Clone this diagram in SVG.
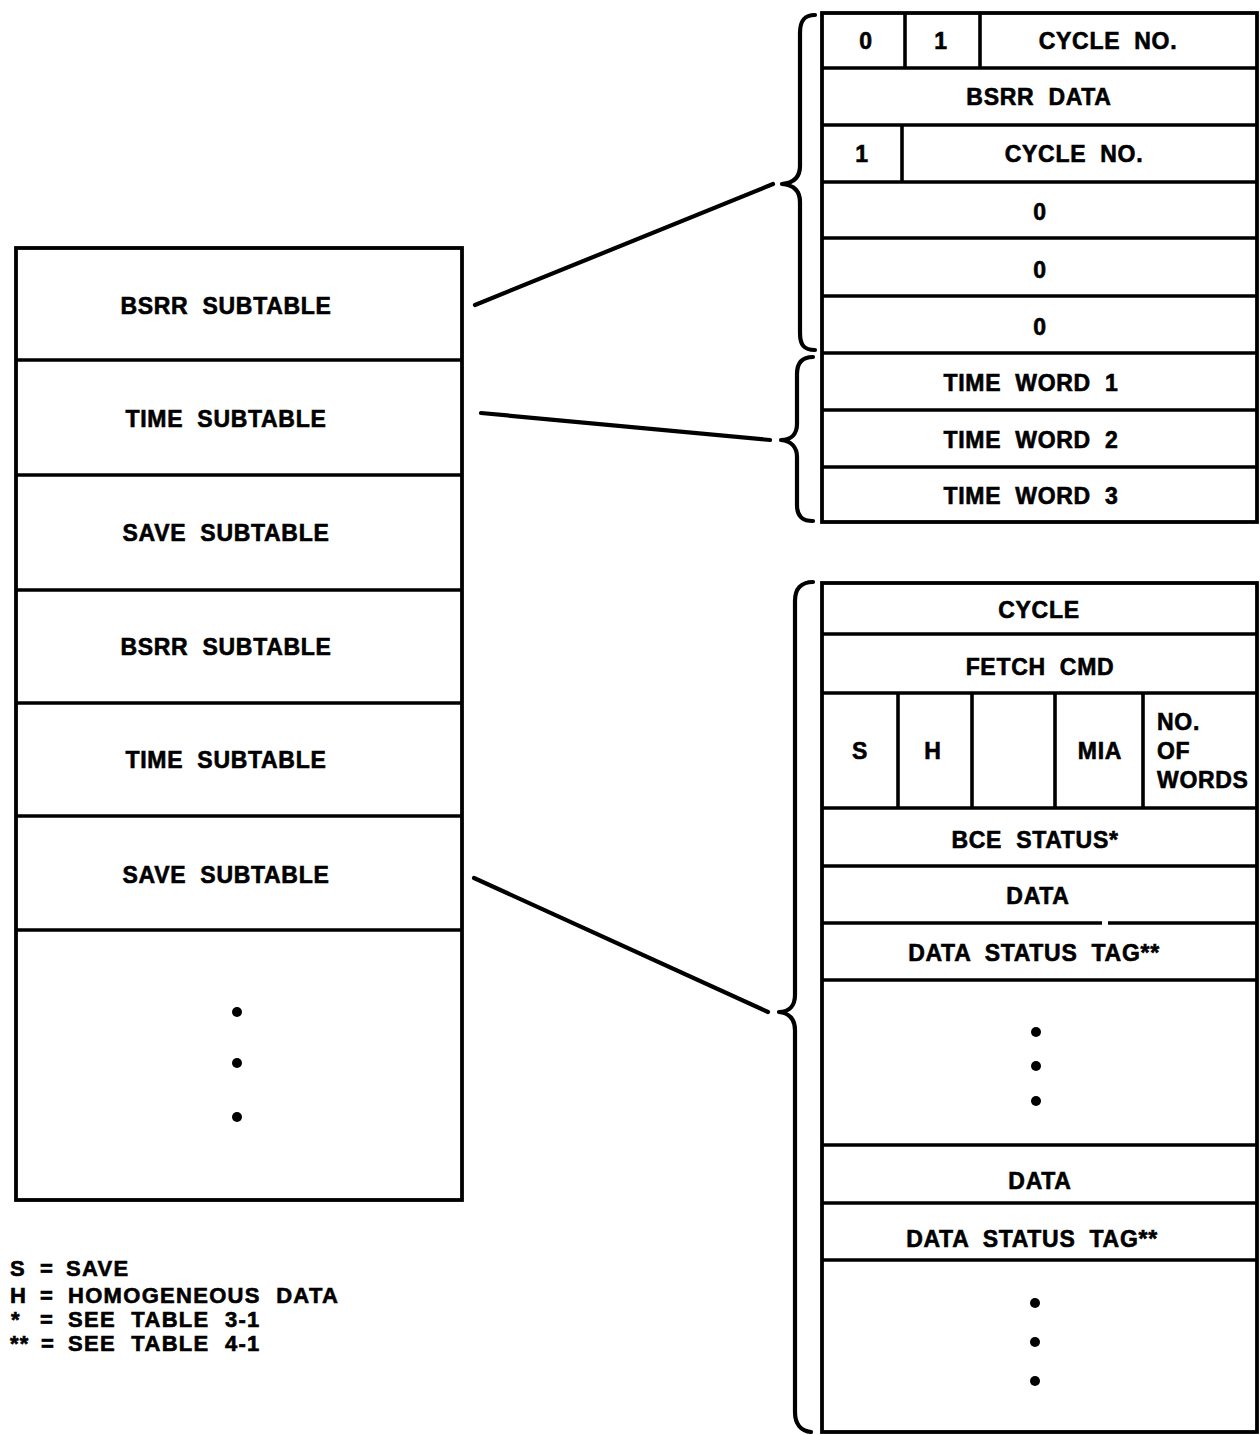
<svg xmlns="http://www.w3.org/2000/svg" width="1260" height="1435" viewBox="0 0 1260 1435">
<style>
  .bg { fill: #ffffff; }
  .box { fill: none; stroke: #000; stroke-width: 3.8; stroke-linejoin: miter; }
  .ln { stroke: #000; stroke-width: 3.6; fill: none; }
  .conn { stroke: #000; stroke-width: 4.2; stroke-linecap: round; fill: none; }
  .brace { stroke: #000; stroke-width: 4.2; stroke-linecap: round; stroke-linejoin: round; fill: none; }
  .t { font-family: "Liberation Sans", Arial, Helvetica, sans-serif; font-weight: bold; font-size: 23px; letter-spacing: 0.7px; word-spacing: 7px; fill: #000; stroke: #000; stroke-width: 0.6px; text-anchor: middle; }
  .tl { text-anchor: start; }
  .lg { font-family: "Liberation Sans", Arial, Helvetica, sans-serif; font-weight: bold; font-size: 22px; letter-spacing: 1.3px; word-spacing: 8px; fill: #000; stroke: #000; stroke-width: 0.6px; }
  .dot { fill: #000; }
</style>
<rect class="bg" x="0" y="0" width="1260" height="1435"/>

<g id="main-table">
  <rect class="box" x="16" y="248" width="446" height="952"/>
  <line class="ln" x1="16" y1="360" x2="462" y2="360"/>
  <line class="ln" x1="16" y1="475" x2="462" y2="475"/>
  <line class="ln" x1="16" y1="590" x2="462" y2="590"/>
  <line class="ln" x1="16" y1="703" x2="462" y2="703"/>
  <line class="ln" x1="16" y1="816" x2="462" y2="816"/>
  <line class="ln" x1="16" y1="930" x2="462" y2="930"/>
  <g id="row-bsrr-1"><text class="t" x="226" y="314">BSRR SUBTABLE</text></g>
  <g id="row-time-1"><text class="t" x="226" y="427">TIME SUBTABLE</text></g>
  <g id="row-save-1"><text class="t" x="226" y="541">SAVE SUBTABLE</text></g>
  <g id="row-bsrr-2"><text class="t" x="226" y="655">BSRR SUBTABLE</text></g>
  <g id="row-time-2"><text class="t" x="226" y="768">TIME SUBTABLE</text></g>
  <g id="row-save-2"><text class="t" x="226" y="883">SAVE SUBTABLE</text></g>
  <g id="row-more">
    <circle class="dot" cx="237" cy="1012" r="5"/>
    <circle class="dot" cx="237" cy="1063" r="5"/>
    <circle class="dot" cx="237" cy="1117" r="5"/>
  </g>
</g>

<g id="bsrr-time-detail">
  <rect class="box" x="822" y="13" width="435" height="509"/>
  <line class="ln" x1="822" y1="68" x2="1257" y2="68"/>
  <line class="ln" x1="822" y1="125" x2="1257" y2="125"/>
  <line class="ln" x1="822" y1="182" x2="1257" y2="182"/>
  <line class="ln" x1="822" y1="238" x2="1257" y2="238"/>
  <line class="ln" x1="822" y1="296" x2="1257" y2="296"/>
  <line class="ln" x1="822" y1="353" x2="1257" y2="353"/>
  <line class="ln" x1="822" y1="410" x2="1257" y2="410"/>
  <line class="ln" x1="822" y1="467" x2="1257" y2="467"/>
  <line class="ln" x1="905" y1="13" x2="905" y2="68"/>
  <line class="ln" x1="980" y1="13" x2="980" y2="68"/>
  <line class="ln" x1="902" y1="125" x2="902" y2="182"/>
  <text class="t" x="866" y="49">0</text>
  <text class="t" x="941" y="49">1</text>
  <text class="t" x="1108" y="49">CYCLE NO.</text>
  <text class="t" x="1039" y="105">BSRR DATA</text>
  <text class="t" x="862" y="162">1</text>
  <text class="t" x="1074" y="162">CYCLE NO.</text>
  <text class="t" x="1040" y="220">0</text>
  <text class="t" x="1040" y="278">0</text>
  <text class="t" x="1040" y="335">0</text>
  <text class="t" x="1031" y="391">TIME WORD 1</text>
  <text class="t" x="1031" y="448">TIME WORD 2</text>
  <text class="t" x="1031" y="504">TIME WORD 3</text>
</g>

<g id="save-detail">
  <rect class="box" x="822" y="583" width="435" height="849"/>
  <line class="ln" x1="822" y1="634" x2="1257" y2="634"/>
  <line class="ln" x1="822" y1="693" x2="1257" y2="693"/>
  <line class="ln" x1="822" y1="808" x2="1257" y2="808"/>
  <line class="ln" x1="822" y1="866" x2="1257" y2="866"/>
  <line class="ln" x1="822" y1="923" x2="1102" y2="923"/>
  <line class="ln" x1="1108" y1="923" x2="1257" y2="923"/>
  <line class="ln" x1="822" y1="980" x2="1257" y2="980"/>
  <line class="ln" x1="822" y1="1145" x2="1257" y2="1145"/>
  <line class="ln" x1="822" y1="1203" x2="1257" y2="1203"/>
  <line class="ln" x1="822" y1="1260" x2="1257" y2="1260"/>
  <line class="ln" x1="898" y1="693" x2="898" y2="808"/>
  <line class="ln" x1="972" y1="693" x2="972" y2="808"/>
  <line class="ln" x1="1055" y1="693" x2="1055" y2="808"/>
  <line class="ln" x1="1143" y1="693" x2="1143" y2="808"/>
  <text class="t" x="1039" y="618">CYCLE</text>
  <text class="t" x="1040" y="675">FETCH CMD</text>
  <text class="t" x="860" y="759">S</text>
  <text class="t" x="933" y="759">H</text>
  <text class="t" x="1100" y="759">MIA</text>
  <text class="t tl" x="1157" y="730">NO.</text>
  <text class="t tl" x="1157" y="759">OF</text>
  <text class="t tl" x="1157" y="788">WORDS</text>
  <text class="t" x="1035" y="848">BCE STATUS*</text>
  <text class="t" x="1038" y="904">DATA</text>
  <text class="t" x="1034" y="961">DATA STATUS TAG**</text>
  <circle class="dot" cx="1036" cy="1032" r="5"/>
  <circle class="dot" cx="1036" cy="1066" r="5"/>
  <circle class="dot" cx="1036" cy="1101" r="5"/>
  <text class="t" x="1040" y="1189">DATA</text>
  <text class="t" x="1032" y="1247">DATA STATUS TAG**</text>
  <circle class="dot" cx="1035" cy="1303" r="5"/>
  <circle class="dot" cx="1035" cy="1342" r="5"/>
  <circle class="dot" cx="1035" cy="1381" r="5"/>
</g>

<g id="connectors">
  <line class="conn" x1="475" y1="305" x2="773" y2="184"/>
  <line class="conn" x1="481" y1="413" x2="770" y2="440"/>
  <line class="conn" x1="474" y1="878" x2="768" y2="1012"/>
  <path class="brace" d="M815,15 C804,15 800,21 800,33 L800,166 C800,177 794,183 782,184 C794,185 800,191 800,202 L800,333 C800,345 804,350 815,350"/>
  <path class="brace" d="M813,357 C802,357 797,363 797,374 L797,424 C797,434 791,440 781,440 C791,441 797,447 797,457 L797,505 C797,516 802,521 813,521"/>
  <path class="brace" d="M813,582 C801,582 795,589 795,601 L795,995 C795,1006 789,1012 779,1012 C789,1013 795,1019 795,1030 L795,1412 C795,1424 801,1431 811,1432"/>
</g>

<g id="legend">
  <text class="lg"><tspan x="10" y="1276">S</tspan><tspan x="40" y="1276">=</tspan><tspan x="66" y="1276">SAVE</tspan></text>
  <text class="lg"><tspan x="10" y="1303">H</tspan><tspan x="40" y="1303">=</tspan><tspan x="68" y="1303">HOMOGENEOUS DATA</tspan></text>
  <text class="lg"><tspan x="11" y="1327">*</tspan><tspan x="40" y="1327">=</tspan><tspan x="68" y="1327">SEE TABLE 3-1</tspan></text>
  <text class="lg"><tspan x="10" y="1351">**</tspan><tspan x="41" y="1351">=</tspan><tspan x="68" y="1351">SEE TABLE 4-1</tspan></text>
</g>
</svg>
